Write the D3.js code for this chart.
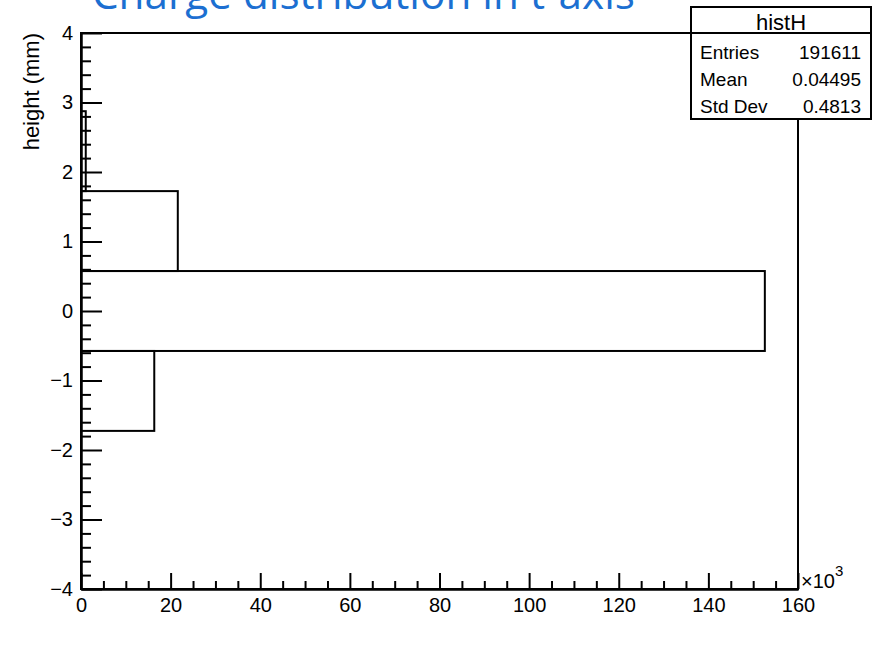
<!DOCTYPE html>
<html lang="en">
<head>
    <meta charset="UTF-8">
    <title>Charge distribution in t-axis</title>
    <style>
        body {
            margin: 0;
            background: white;
        }
        svg text {
            font-family: "Liberation Sans", Arial, Helvetica, sans-serif;
        }
    </style>
    <script src="https://d3js.org/d3.v7.min.js"></script>
</head>
<body>
<div id="chart"></div>

<script>
// histogram bins (height in mm) and counts
var binCenters = [-3.45, -2.3, -1.15, 0, 1.15, 2.3, 3.45];
var binWidth = 1.15;
var binCounts = [0, 0, 16350, 152600, 21600, 1061, 0];

// stats box
var statsTitle = "histH";
var statsLabels = ["Entries", "Mean", "Std Dev"];
var statsValues = ["191611", "0.04495", "0.4813"];

var xMajorTicks = [0, 20000, 40000, 60000, 80000, 100000, 120000, 140000, 160000];
var yMajorTicks = [-4, -3, -2, -1, 0, 1, 2, 3, 4];

var width = 888, height = 646;
var frame = {left: 81, right: 798, top: 33, bottom: 589};

var svg = d3.select("#chart")
  .append("svg")
    .attr("width", width)
    .attr("height", height);

var x = d3.scaleLinear()
  .domain([0, 160000])
  .range([frame.left, frame.right]);

var y = d3.scaleLinear()
  .domain([-4, 4])
  .range([frame.bottom, frame.top]);

var minus = function(v) { return String(v).replace("-", "\u2212"); };

// title (partly cut off at the top, as in the original)
var title = svg.append("text")
    .attr("x", 92)
    .attr("y", 9)
    .attr("fill", "#1c6fd1")
    .style("font-family", "'Open Sans', 'Noto Sans', sans-serif")
    .style("font-size", "36px")
    .text("Charge distribution in t-axis");
var tw = title.node().getComputedTextLength();
title.style("font-size", (36 * 543 / tw) + "px");

// bars
svg.selectAll("rect.bin")
  .data(binCenters.map(function(c, i) { return {c: c, n: binCounts[i]}; })
          .filter(function(d) { return d.n > 0; }))
  .enter()
  .append("rect")
    .attr("class", "bin")
    .attr("x", x(0))
    .attr("y", function(d) { return y(d.c + binWidth / 2); })
    .attr("width", function(d) { return x(d.n) - x(0); })
    .attr("height", function(d) { return y(d.c - binWidth / 2) - y(d.c + binWidth / 2); })
    .attr("fill", "none")
    .attr("stroke", "#000")
    .attr("stroke-width", 2);

// frame
svg.append("rect")
    .attr("x", frame.left)
    .attr("y", frame.top)
    .attr("width", frame.right - frame.left)
    .attr("height", frame.bottom - frame.top)
    .attr("fill", "none")
    .attr("stroke", "#000")
    .attr("stroke-width", 2);

// y axis
var yMinor = d3.range(-40, 41, 2).map(function(v) { return v / 10; })
  .filter(function(v) { return Math.abs(v - Math.round(v)) > 1e-6; });

svg.append("g")
    .attr("transform", "translate(" + frame.left + ",0)")
    .call(d3.axisLeft(y).tickValues(yMinor).tickFormat("").tickSize(-10).tickSizeOuter(0));

svg.append("g")
    .attr("transform", "translate(" + frame.left + ",0)")
    .call(d3.axisLeft(y).tickValues(yMajorTicks).tickFormat(minus).tickSize(-21).tickSizeOuter(0).tickPadding(8));

// x axis
var xMinor = d3.range(0, 160001, 5000)
  .filter(function(v) { return v % 20000 !== 0; });

svg.append("g")
    .attr("transform", "translate(0," + frame.bottom + ")")
    .call(d3.axisBottom(x).tickValues(xMinor).tickFormat("").tickSize(-8).tickSizeOuter(0));

svg.append("g")
    .attr("transform", "translate(0," + frame.bottom + ")")
    .call(d3.axisBottom(x).tickValues(xMajorTicks)
      .tickFormat(function(d) { return d / 1000; })
      .tickSize(-16).tickSizeOuter(0).tickPadding(9));

svg.selectAll(".tick line").attr("stroke", "#000").attr("stroke-width", 2);
svg.selectAll(".domain").attr("stroke", "#000").attr("stroke-width", 2);
svg.selectAll(".tick text")
    .attr("fill", "#000")
    .style("font-size", "20px");

// x10^3 multiplier
var mult = svg.append("text")
    .attr("x", 801)
    .attr("y", 588)
    .style("font-size", "20px");
mult.append("tspan").text("\u00d710");
mult.append("tspan").attr("dy", -12).style("font-size", "15px").text("3");

// y axis label
svg.append("text")
    .attr("transform", "translate(39," + frame.top + ") rotate(-90)")
    .attr("text-anchor", "end")
    .style("font-size", "22px")
    .text("height (mm)");

// stats box
var box = {x: 691, y: 7, w: 180, h: 112, head: 26};
var stats = svg.append("g");
stats.append("rect")
    .attr("x", box.x)
    .attr("y", box.y)
    .attr("width", box.w)
    .attr("height", box.h)
    .attr("fill", "#fff")
    .attr("stroke", "#000")
    .attr("stroke-width", 2);
stats.append("line")
    .attr("x1", box.x)
    .attr("x2", box.x + box.w)
    .attr("y1", box.y + box.head)
    .attr("y2", box.y + box.head)
    .attr("stroke", "#000")
    .attr("stroke-width", 2);
stats.append("text")
    .attr("x", box.x + box.w / 2)
    .attr("y", 30)
    .attr("text-anchor", "middle")
    .style("font-size", "22px")
    .text(statsTitle);
statsLabels.forEach(function(label, i) {
  stats.append("text")
      .attr("x", 700)
      .attr("y", 59 + i * 27)
      .style("font-size", "19px")
      .text(label);
  stats.append("text")
      .attr("x", 861)
      .attr("y", 59 + i * 27)
      .attr("text-anchor", "end")
      .style("font-size", "19px")
      .text(statsValues[i]);
});
</script>
</body>
</html>
